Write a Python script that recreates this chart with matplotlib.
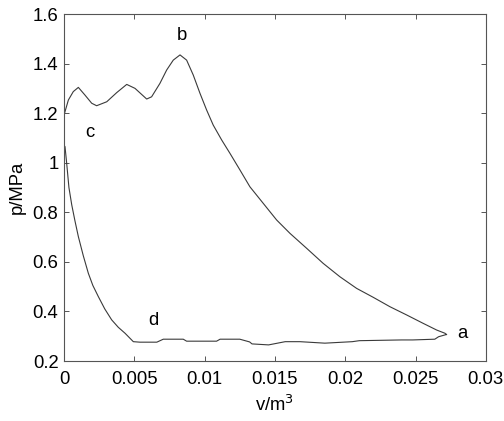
import matplotlib
matplotlib.use("Agg")
import matplotlib.pyplot as plt

# Loop traced from a -> d (bottom), d -> c (compression), c -> b (combustion), b -> a (expansion)
v_bottom = [0.0272, 0.02664, 0.02637, 0.0248, 0.0240, 0.0210, 0.0205, 0.01855, 0.01678,
            0.01573, 0.01455, 0.01337, 0.0132, 0.0125, 0.0111, 0.01085, 0.00872, 0.00848,
            0.00706, 0.0066, 0.0054, 0.00493]
p_bottom = [0.307, 0.298, 0.288, 0.285, 0.285, 0.282, 0.278, 0.272, 0.278,
            0.278, 0.265, 0.269, 0.277, 0.288, 0.288, 0.280, 0.280, 0.288,
            0.288, 0.276, 0.276, 0.278]

v_comp = [0.00434, 0.00386, 0.00339, 0.00290, 0.00244, 0.00205, 0.00173, 0.00137, 0.00102,
          0.00078, 0.00055, 0.00035, 0.00019, 0.00007, 0.0, 0.0]
p_comp = [0.312, 0.336, 0.366, 0.410, 0.460, 0.505, 0.554, 0.625, 0.702,
          0.765, 0.830, 0.90, 0.998, 1.065, 1.07, 1.19]

v_comb = [0.00007, 0.00031, 0.00066, 0.00102, 0.00149, 0.00197, 0.00232, 0.00304, 0.00375,
          0.00446, 0.00505, 0.00588, 0.00623, 0.00682, 0.0073, 0.00777, 0.00825]
p_comb = [1.206, 1.253, 1.287, 1.304, 1.273, 1.240, 1.230, 1.246, 1.283,
          1.316, 1.300, 1.257, 1.266, 1.320, 1.374, 1.414, 1.435]

v_exp = [0.00872, 0.00919, 0.00967, 0.01014, 0.01061, 0.01121, 0.0118, 0.01251, 0.01322,
         0.01417, 0.01512, 0.01607, 0.01725, 0.01843, 0.01962, 0.02081, 0.02199, 0.02318,
         0.02436, 0.02554, 0.0265, 0.02709, 0.0272]
p_exp = [1.414, 1.354, 1.280, 1.213, 1.152, 1.092, 1.038, 0.971, 0.903,
         0.836, 0.769, 0.715, 0.655, 0.594, 0.540, 0.493, 0.457, 0.419,
         0.386, 0.352, 0.325, 0.312, 0.307]

x_ticks = [0, 0.005, 0.01, 0.015, 0.02, 0.025, 0.03]
x_tick_labels = ["0", "0.005", "0.01", "0.015", "0.02", "0.025", "0.03"]
y_ticks = [0.2, 0.4, 0.6, 0.8, 1.0, 1.2, 1.4, 1.6]
y_tick_labels = ["0.2", "0.4", "0.6", "0.8", "1", "1.2", "1.4", "1.6"]

point_labels = ["a", "b", "c", "d"]
point_v = [0.02836, 0.00839, 0.00185, 0.00633]
point_p = [0.311, 1.515, 1.12, 0.362]

plt.rcParams['font.family'] = ['Liberation Sans', 'DejaVu Sans']

fig = plt.figure(figsize=(5.04, 4.21), dpi=100)
ax = fig.add_axes([0.127, 0.1425, 0.837, 0.8242])

v_all = v_bottom + v_comp + v_comb + v_exp
p_all = p_bottom + p_comp + p_comb + p_exp
ax.plot(v_all, p_all, color="#3a3a3a", linewidth=0.8)

fs = 13.3
for lab, xv, yv in zip(point_labels, point_v, point_p):
    ax.text(xv, yv, lab, fontsize=fs, ha="center", va="center", color="black")

ax.set_xlim(0, 0.03)
ax.set_ylim(0.2, 1.6)
ax.set_xticks(x_ticks)
ax.set_xticklabels(x_tick_labels)
ax.set_yticks(y_ticks)
ax.set_yticklabels(y_tick_labels)
ax.tick_params(direction="in", length=3.6, width=0.7, labelsize=fs, top=True, right=True,
               colors="#555555", labelcolor="black")
ax.tick_params(axis="x", pad=7)
ax.tick_params(axis="y", pad=4)
for s in ax.spines.values():
    s.set_color("#555555")
    s.set_linewidth(0.8)

ax.set_xlabel("v/m$^3$", fontsize=fs, labelpad=5)
ax.set_ylabel("p/MPa", fontsize=fs, labelpad=5)

fig.savefig("out.png", dpi=100)
